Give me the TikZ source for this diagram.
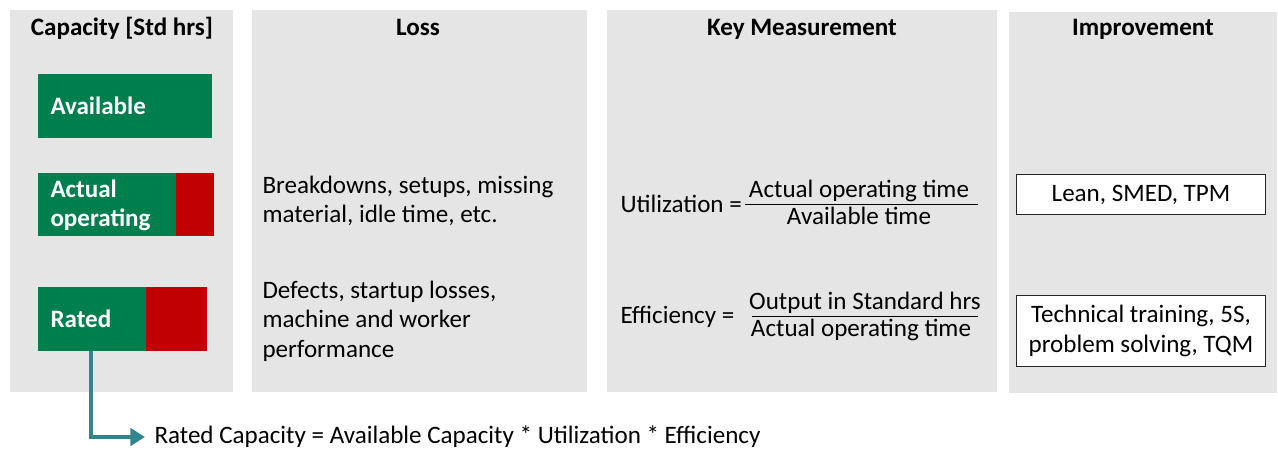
\documentclass[tikz,border=0pt]{standalone}
\usepackage{fontspec}
\setmainfont{Carlito}
\usetikzlibrary{arrows.meta}

\definecolor{panelgray}{RGB}{229,229,229}
\definecolor{capgreen}{RGB}{0,127,78}
\definecolor{lossred}{RGB}{192,0,0}
\definecolor{flowteal}{RGB}{49,133,143}

\tikzset{every picture/.style={line width=0.75pt}}

\begin{document}
\begin{tikzpicture}[x=0.75pt,y=0.75pt,yscale=-1,xscale=1,
    font=\fontsize{18.8}{22}\selectfont,
    head/.style={anchor=base, inner sep=0.75pt, font=\fontsize{18.8}{22}\selectfont\bfseries},
    txt/.style={anchor=west, inner sep=0.75pt, align=left},
    bartxt/.style={anchor=west, inner sep=0.75pt, align=left, text=white, font=\fontsize{18.8}{22}\selectfont\bfseries},
    impbox/.style={draw=black!85, fill=white, line width=1.1pt, minimum width=186.75pt, align=center, inner sep=0.75pt}]
        \useasboundingbox (0,0) rectangle (1278,450);
        %Column panels
        \fill[panelgray] (10,10) rectangle (233,392);
        \fill[panelgray] (252,10) rectangle (587,392);
        \fill[panelgray] (607,10) rectangle (997,392);
        \fill[panelgray] (1009,12) rectangle (1277,393);
        %Column headers
        \node[head] (hcap) at (122,35) {Capacity [Std hrs]};
        \node[head] (hloss) at (418,35) {Loss};
        \node[head] (hkey) at (802,35) {Key Measurement};
        \node[head] (himp) at (1143,35) {Improvement};
        %Capacity bars (green = used, red = lost)
        \fill[capgreen] (38,74) rectangle (212,138);
        \fill[capgreen] (38,173) rectangle (176,236);
        \fill[lossred] (176,173) rectangle (214,236);
        \fill[capgreen] (38,287) rectangle (146,351);
        \fill[lossred] (146,287) rectangle (207,351);
        \node[bartxt] (avail) at (49,106) {Available};
        \node[bartxt] (actual) at (49,205) {Actual\\operating};
        \node[bartxt] (rated) at (49,319) {Rated};
        % Loss text
        \node[txt] (loss1) at (261,201) {Breakdowns, setups, missing\\material, idle time, etc.};
        \node[txt] (loss2) at (261,321) {Defects, startup losses,\\machine and worker\\performance};
        % Utilization ratio
        \node[txt] (util) at (619,204) {Utilization =};
        \node[inner sep=0.75pt, anchor=south] (utilnum) at (859,203) {Actual operating time};
        \node[inner sep=0.75pt, anchor=north] (utilden) at (859,206) {Available time};
        \draw (745,204) -- (978,204);
        % Efficiency ratio
        \node[txt] (eff) at (619,317) {Efficiency =};
        \node[inner sep=0.75pt, anchor=south] (effnum) at (865,315) {Output in Standard hrs};
        \node[inner sep=0.75pt, anchor=north] (effden) at (861,318) {Actual operating time};
        \draw (752,316) -- (978,316);
        % Improvement boxes
        \node[impbox, minimum height=30pt] (lean) at (1141,194.5) {Lean, SMED, TPM};
        \node[impbox, minimum height=53.25pt] (tech) at (1141,331) {Technical training, 5S,\\problem solving, TQM};
        % Rated capacity formula
        \coordinate (ratedfoot) at (91,351);
        \node[txt] (formula) at (153,437) {Rated Capacity = Available Capacity * Utilization * Efficiency};
        \draw[flowteal, line width=3pt, -{Triangle[length=11pt,width=13pt]}] (ratedfoot) |- ([xshift=-6pt]formula.west);
\end{tikzpicture}
\end{document}
